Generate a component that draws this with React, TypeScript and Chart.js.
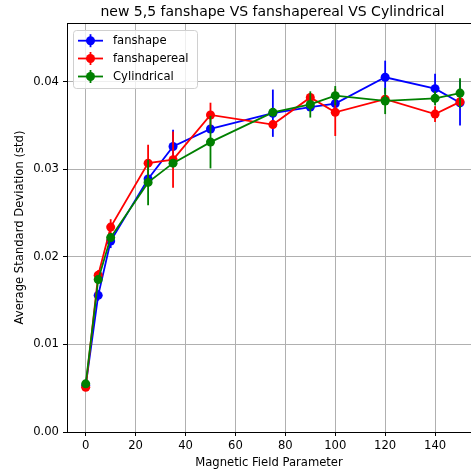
import React, { useEffect, useRef } from 'react';
import { Chart, registerables } from 'chart.js';

Chart.register(...registerables);

const chartTitle = 'new 5,5 fanshape VS fanshapereal VS Cylindrical';
const xLabel = 'Magnetic Field Parameter';
const yLabel = 'Average Standard Deviation (std)';

const fields = [0, 5, 10, 25, 35, 50, 75, 90, 100, 120, 140, 150];
const seriesNames = ['fanshape', 'fanshapereal', 'Cylindrical'];
const seriesColors = ['#0000ff', '#ff0000', '#008000'];

const fanshape = [0.0053, 0.0156, 0.0218, 0.0289, 0.0326, 0.0346, 0.0364, 0.0371, 0.0375, 0.0405, 0.0392, 0.0376];
const fanshapeErr = [0.0002, 0.0006, 0.0008, 0.0003, 0.0019, 0.0004, 0.0027, 0.0003, 0.0003, 0.0019, 0.0017, 0.0026];
const fanshapereal = [0.0051, 0.0179, 0.0234, 0.0307, 0.0311, 0.0362, 0.0351, 0.0382, 0.0365, 0.0380, 0.0363, 0.0377];
const fanshaperealErr = [0.0002, 0.0006, 0.0009, 0.0021, 0.0032, 0.0014, 0.0005, 0.0005, 0.0027, 0.0004, 0.0009, 0.0005];
const cylindrical = [0.0055, 0.0174, 0.0222, 0.0285, 0.0307, 0.0331, 0.0365, 0.0374, 0.0384, 0.0378, 0.0381, 0.0387];
const cylindricalErr = [0.0002, 0.0004, 0.0005, 0.0026, 0.0004, 0.0030, 0.0003, 0.0015, 0.0011, 0.0015, 0.0008, 0.0017];

const xTicks = [0, 20, 40, 60, 80, 100, 120, 140];
const yTicks = [0, 0.01, 0.02, 0.03, 0.04];

const seriesValues = [fanshape, fanshapereal, cylindrical];
const seriesErrors = [fanshapeErr, fanshaperealErr, cylindricalErr];

const FONT = 'DejaVu Sans';

const errorBarPlugin = {
  id: 'errorBars',
  beforeDatasetDraw(chart: any, args: any) {
    const idx = args.index;
    const errs = seriesErrors[idx];
    const vals = seriesValues[idx];
    const ys = chart.scales.y;
    const ctx = chart.ctx;
    ctx.save();
    ctx.strokeStyle = seriesColors[idx];
    ctx.lineWidth = 1.8;
    args.meta.data.forEach((pt: any, i: number) => {
      const y1 = ys.getPixelForValue(vals[i] - errs[i]);
      const y2 = ys.getPixelForValue(vals[i] + errs[i]);
      ctx.beginPath();
      ctx.moveTo(pt.x, y1);
      ctx.lineTo(pt.x, y2);
      ctx.stroke();
    });
    ctx.restore();
  },
};

const decorPlugin = {
  id: 'decor',
  afterDraw(chart: any) {
    const ctx = chart.ctx;
    const area = chart.chartArea;
    ctx.save();
    // top spine
    ctx.strokeStyle = '#000';
    ctx.lineWidth = 1;
    ctx.beginPath();
    ctx.moveTo(area.left, Math.round(area.top) + 0.5);
    ctx.lineTo(area.right, Math.round(area.top) + 0.5);
    ctx.stroke();

    // title
    ctx.fillStyle = '#000';
    ctx.font = `14px "${FONT}"`;
    ctx.textAlign = 'center';
    ctx.textBaseline = 'middle';
    ctx.fillText(chartTitle, 272.5, 12);

    // legend
    const bx = 73.5, by = 30.5, bw = 124, bh = 58, r = 3;
    ctx.beginPath();
    ctx.moveTo(bx + r, by);
    ctx.lineTo(bx + bw - r, by);
    ctx.quadraticCurveTo(bx + bw, by, bx + bw, by + r);
    ctx.lineTo(bx + bw, by + bh - r);
    ctx.quadraticCurveTo(bx + bw, by + bh, bx + bw - r, by + bh);
    ctx.lineTo(bx + r, by + bh);
    ctx.quadraticCurveTo(bx, by + bh, bx, by + bh - r);
    ctx.lineTo(bx, by + r);
    ctx.quadraticCurveTo(bx, by, bx + r, by);
    ctx.closePath();
    ctx.fillStyle = 'rgba(255,255,255,0.8)';
    ctx.fill();
    ctx.strokeStyle = '#d0d0d0';
    ctx.stroke();

    const rows = [40.7, 58.5, 76.5];
    seriesNames.forEach((name, i) => {
      const y = rows[i];
      ctx.strokeStyle = seriesColors[i];
      ctx.lineWidth = 1.8;
      ctx.beginPath();
      ctx.moveTo(78, y);
      ctx.lineTo(103, y);
      ctx.stroke();
      ctx.beginPath();
      ctx.moveTo(90.5, y - 6.5);
      ctx.lineTo(90.5, y + 6.5);
      ctx.stroke();
      ctx.fillStyle = seriesColors[i];
      ctx.beginPath();
      ctx.arc(90.5, y, 4.5, 0, Math.PI * 2);
      ctx.fill();
      ctx.fillStyle = '#000';
      ctx.font = `11.6px "${FONT}"`;
      ctx.textAlign = 'left';
      ctx.textBaseline = 'middle';
      ctx.fillText(name, 113, y);
    });
    ctx.restore();
  },
};

export default function App() {
  const ref = useRef<HTMLCanvasElement>(null);

  useEffect(() => {
    if (!ref.current) return;
    Chart.defaults.font.family = FONT;
    const datasets = seriesNames.map((name, i) => ({
      label: name,
      data: fields.map((f, j) => ({ x: f, y: seriesValues[i][j] })),
      borderColor: seriesColors[i],
      backgroundColor: seriesColors[i],
      pointBackgroundColor: seriesColors[i],
      pointBorderWidth: 0,
      pointRadius: 4.5,
      borderWidth: 1.8,
      tension: 0,
      fill: false,
      order: 2 - i,
    }));
    const tickFont = { family: FONT, size: 11.6 };
    const chart = new Chart(ref.current, {
      type: 'line',
      data: { datasets },
      plugins: [errorBarPlugin, decorPlugin],
      options: {
        animation: false,
        responsive: false,
        devicePixelRatio: 1,
        layout: { autoPadding: false, padding: { top: 23, left: 0, right: 0, bottom: 0 } },
        plugins: {
          legend: { display: false },
          title: { display: false },
          tooltip: { enabled: false },
        },
        scales: {
          x: {
            type: 'linear',
            min: -7.5,
            max: 154.4,
            afterBuildTicks: (axis: any) => {
              axis.ticks = xTicks.map((v) => ({ value: v }));
            },
            afterFit: (axis: any) => {
              axis.height = 43;
            },
            grid: { color: '#b0b0b0', lineWidth: 1, tickColor: '#000', tickLength: 4, tickWidth: 1 },
            border: { display: true, color: '#000', width: 1 },
            ticks: {
              font: tickFont,
              color: '#000',
              padding: 3,
              maxRotation: 0,
              autoSkip: false,
              callback: (v: any) => String(v),
            },
            title: {
              display: true,
              text: xLabel,
              font: tickFont,
              color: '#000',
              padding: { top: 0, bottom: 5.3 },
            },
          },
          y: {
            type: 'linear',
            min: 0,
            max: 0.0467,
            afterBuildTicks: (axis: any) => {
              axis.ticks = yTicks.map((v) => ({ value: v }));
            },
            afterFit: (axis: any) => {
              axis.width = 67;
            },
            grid: { color: '#b0b0b0', lineWidth: 1, tickColor: '#000', tickLength: 4, tickWidth: 1 },
            border: { display: true, color: '#000', width: 1 },
            ticks: {
              font: tickFont,
              color: '#000',
              padding: 4,
              autoSkip: false,
              callback: (v: any) => Number(v).toFixed(2),
            },
            title: {
              display: true,
              text: yLabel,
              font: tickFont,
              color: '#000',
              padding: { top: 13, bottom: 0 },
            },
          },
        },
      },
    } as any);
    return () => chart.destroy();
  }, []);

  return (
    <div style={{ position: 'absolute', left: 0, top: 0, width: 471, height: 475 }}>
      <canvas ref={ref} width={471} height={475} style={{ display: 'block' }} />
    </div>
  );
}
